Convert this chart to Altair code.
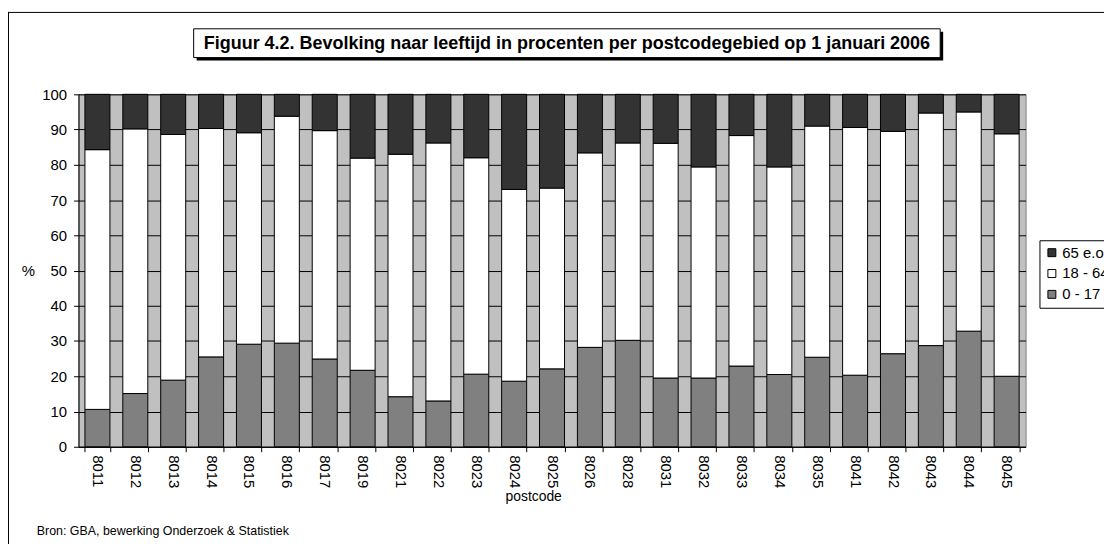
import altair as alt
import pandas as pd

postcodes = ["8011", "8012", "8013", "8014", "8015", "8016", "8017", "8019", "8021", "8022",
             "8023", "8024", "8025", "8026", "8028", "8031", "8032", "8033", "8034", "8035",
             "8041", "8042", "8043", "8044", "8045"]
age_0_17 = [10.6, 15.1, 18.9, 25.5, 29.1, 29.4, 24.9, 21.7, 14.2, 13.0, 20.6, 18.6, 22.1,
            28.2, 30.2, 19.5, 19.5, 22.9, 20.5, 25.4, 20.3, 26.4, 28.7, 32.8, 20.0]
age_18_64 = [73.7, 75.1, 69.7, 64.8, 60.0, 64.4, 64.8, 60.2, 68.8, 73.2, 61.4, 54.4, 51.3,
             55.2, 56.0, 66.6, 59.9, 65.4, 58.9, 65.6, 70.3, 63.1, 66.0, 62.2, 68.8]
age_65_plus = [15.7, 9.8, 11.4, 9.7, 10.9, 6.2, 10.3, 18.1, 17.0, 13.8, 18.0, 27.0, 26.6,
               16.6, 13.8, 13.9, 20.6, 11.7, 20.6, 9.0, 9.4, 10.5, 5.3, 5.0, 11.2]
series_labels = ["65 e.o.", "18 - 64", "\u00a0\u00a00 - 17"]
series_colors = ["#333333", "#FFFFFF", "#808080"]
title_text = "Figuur 4.2. Bevolking naar leeftijd in procenten per postcodegebied op 1 januari 2006"
source_text = "Bron: GBA, bewerking Onderzoek & Statistiek"

rows = []
for i, pc in enumerate(postcodes):
    rows.append({"postcode": pc, "groep": series_labels[2], "pct": age_0_17[i], "ord": 0})
    rows.append({"postcode": pc, "groep": series_labels[1], "pct": age_18_64[i], "ord": 1})
    rows.append({"postcode": pc, "groep": series_labels[0], "pct": age_65_plus[i], "ord": 2})
df = pd.DataFrame(rows)

FONT = "Liberation Sans"
W, H = 954, 355

bars = alt.Chart(df).mark_bar(stroke="black", strokeWidth=1).encode(
    x=alt.X("postcode:N", sort=postcodes,
            scale=alt.Scale(paddingInner=0.34, paddingOuter=0.17),
            axis=alt.Axis(title="postcode", labelAngle=90, labelFontSize=15, labelFont=FONT,
                          labelColor="black", labelPadding=3, tickBand="extent",
                          tickColor="black", tickSize=5, domainColor="black",
                          titleFont=FONT, titleFontSize=14, titleFontWeight="normal",
                          titleColor="black", titleX=458, titleY=50,
                          titleBaseline="middle", grid=False)),
    y=alt.Y("pct:Q", stack="zero",
            scale=alt.Scale(domain=[0, 100], nice=False),
            axis=alt.Axis(title="%", values=list(range(0, 101, 10)), labelFontSize=15,
                          labelFont=FONT, labelColor="black", labelPadding=7,
                          tickColor="black", tickSize=5, domainColor="black",
                          grid=True, gridColor="black", gridOpacity=1, gridWidth=1,
                          titleFont=FONT, titleFontSize=15, titleFontWeight="normal",
                          titleColor="black", titleAngle=0, titleX=-51, titleY=177,
                          titleBaseline="middle", titleAlign="center")),
    color=alt.Color("groep:N",
                    scale=alt.Scale(domain=series_labels, range=series_colors),
                    legend=alt.Legend(title=None, orient="none", legendX=968, legendY=147,
                                      symbolType="square", symbolSize=64,
                                      symbolStrokeColor="black", symbolStrokeWidth=1,
                                      labelFont=FONT, labelFontSize=15, labelColor="black",
                                      labelOffset=3, rowPadding=5, padding=5,
                                      strokeColor="black", fillColor="white")),
    order=alt.Order("ord:Q"),
)

one = pd.DataFrame({"t": [title_text]})
shadow = alt.Chart(one).mark_rect(color="black").encode(
    x=alt.value(119), x2=alt.value(871), y=alt.value(-63), y2=alt.value(-34))
box = alt.Chart(one).mark_rect(fill="white", stroke="black", strokeWidth=1).encode(
    x=alt.value(116), x2=alt.value(868), y=alt.value(-66), y2=alt.value(-37))
title = alt.Chart(one).mark_text(font=FONT, fontSize=18.1, fontWeight="bold", color="black",
                                 align="center", baseline="middle").encode(
    x=alt.value(492), y=alt.value(-51), text="t:N")
src = alt.Chart(pd.DataFrame({"t": [source_text]})).mark_text(
    font=FONT, fontSize=12.5, color="black", align="left", baseline="middle").encode(
    x=alt.value(-42), y=alt.value(440), text="t:N")
border_left = alt.Chart(one).mark_rule(color="black", strokeWidth=1).encode(
    x=alt.value(-70.5), y=alt.value(-83), y2=alt.value(460))
border_top = alt.Chart(one).mark_rule(color="black", strokeWidth=1).encode(
    x=alt.value(-71), x2=alt.value(1040), y=alt.value(-82.5))

chart = alt.layer(bars, shadow, box, title, src, border_left, border_top).properties(
    width=W, height=H,
    autosize=alt.AutoSizeParams(type="none"),
    padding={"left": 71, "top": 85, "right": 79, "bottom": 96},
    background="white",
).configure_view(fill="#C0C0C0", stroke="#808080", strokeWidth=1)

chart.save("out.html", embed_options={"renderer": "svg", "actions": False})
